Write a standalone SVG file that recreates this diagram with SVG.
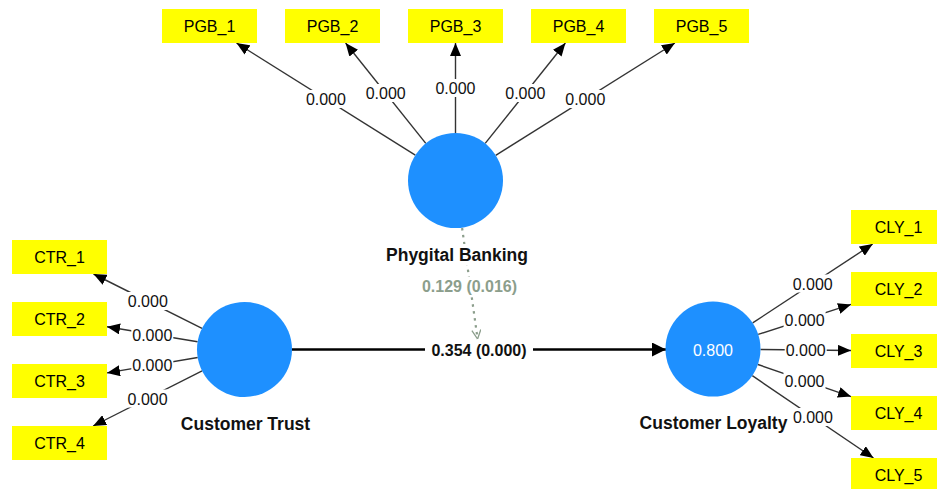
<svg xmlns="http://www.w3.org/2000/svg" width="937" height="489" viewBox="0 0 937 489">
<style>
.box{fill:#ffff00}
.bt{font-family:"Liberation Sans",Arial,sans-serif;font-size:16px;fill:#000;text-anchor:middle}
.lat{fill:#1e90ff}
.nm{font-family:"Liberation Sans",Arial,sans-serif;font-size:17.5px;font-weight:bold;fill:#111;text-anchor:middle}
.edge{stroke:#333;stroke-width:1.4;fill:none;marker-end:url(#ah)}
.lbl{font-family:"Liberation Sans",Arial,sans-serif;font-size:16px;fill:#111;text-anchor:middle}
.bg{fill:#fff}
</style>
<defs>
<marker id="ah" viewBox="0 0 13 11" refX="13" refY="5.5" markerWidth="13" markerHeight="11" markerUnits="userSpaceOnUse" orient="auto"><path d="M0,0 L13,5.5 L0,11 z" fill="#000"/></marker>
<marker id="ahb" viewBox="0 0 14 14" refX="14" refY="7" markerWidth="14" markerHeight="14" markerUnits="userSpaceOnUse" orient="auto"><path d="M0,0 L14,7 L0,14 z" fill="#000"/></marker>
<marker id="aho" viewBox="0 0 10 10" refX="10" refY="5" markerWidth="10" markerHeight="10" markerUnits="userSpaceOnUse" orient="auto"><path d="M1,0.5 L10,5 L1,9.5" fill="none" stroke="#8c9e8c" stroke-width="1.3"/></marker>
</defs>
<rect width="937" height="489" fill="#fff"/>
<g id="connectors">
<line class="edge" x1="415.3" y1="155.2" x2="236.5" y2="43"/>
<line class="edge" x1="425.8" y1="143.4" x2="345.6" y2="43"/>
<line class="edge" x1="455.5" y1="133" x2="455.5" y2="43"/>
<line class="edge" x1="485.2" y1="143.4" x2="565.4" y2="43"/>
<line class="edge" x1="495.7" y1="155.3" x2="674.9" y2="43"/>
<line class="edge" x1="202" y1="328.3" x2="93.5" y2="274"/>
<line class="edge" x1="197.6" y1="341.8" x2="107" y2="326.8"/>
<line class="edge" x1="197.7" y1="357.5" x2="107" y2="372.9"/>
<line class="edge" x1="202.1" y1="370.9" x2="93.1" y2="426"/>
<line class="edge" x1="752.7" y1="322.9" x2="872.7" y2="244"/>
<line class="edge" x1="758.2" y1="334.4" x2="851" y2="304.4"/>
<line class="edge" x1="760.5" y1="349.5" x2="851" y2="350.5"/>
<line class="edge" x1="757.9" y1="364.5" x2="851" y2="396.6"/>
<line class="edge" x1="752.3" y1="375.7" x2="873.5" y2="458"/>
<line x1="292" y1="349.5" x2="666" y2="349.5" stroke="#000" stroke-width="2.6" marker-end="url(#ahb)"/>
<line x1="462.1" y1="228" x2="477.6" y2="339" stroke="#8c9e8c" stroke-width="2.2" stroke-dasharray="2.5,4.5" marker-end="url(#aho)"/>
<g id="edge-labels">
<rect class="bg" x="303.9" y="90" width="44" height="18"/><text class="lbl" x="325.9" y="105">0.000</text>
<rect class="bg" x="363.7" y="84" width="44" height="18"/><text class="lbl" x="385.7" y="99">0.000</text>
<rect class="bg" x="433.5" y="79" width="44" height="18"/><text class="lbl" x="455.5" y="94">0.000</text>
<rect class="bg" x="503.3" y="84" width="44" height="18"/><text class="lbl" x="525.3" y="99">0.000</text>
<rect class="bg" x="563.3" y="90" width="44" height="18"/><text class="lbl" x="585.3" y="105">0.000</text>
<rect class="bg" x="126.8" y="292" width="42" height="18"/><text class="lbl" x="147.8" y="307">0.000</text>
<rect class="bg" x="131.3" y="325.5" width="42" height="18"/><text class="lbl" x="152.3" y="340.5">0.000</text>
<rect class="bg" x="131.3" y="356" width="42" height="18"/><text class="lbl" x="152.3" y="371">0.000</text>
<rect class="bg" x="126.6" y="389.5" width="42" height="18"/><text class="lbl" x="147.6" y="404.5">0.000</text>
<rect class="bg" x="791.7" y="274.5" width="42" height="18"/><text class="lbl" x="812.7" y="289.5">0.000</text>
<rect class="bg" x="783.6" y="310.5" width="42" height="18"/><text class="lbl" x="804.6" y="325.5">0.000</text>
<rect class="bg" x="784.7" y="341" width="42" height="18"/><text class="lbl" x="805.7" y="356">0.000</text>
<rect class="bg" x="783.5" y="371.5" width="42" height="18"/><text class="lbl" x="804.5" y="386.5">0.000</text>
<rect class="bg" x="791.9" y="408" width="42" height="18"/><text class="lbl" x="812.9" y="423">0.000</text>
<rect class="bg" x="425" y="340" width="108" height="20"/><text class="lbl" x="479" y="356" font-weight="bold" fill="#000">0.354 (0.000)</text>
<rect class="bg" x="421" y="277" width="98" height="19"/><text class="lbl" x="469.5" y="292" font-weight="bold" style="fill:#8c9e8c">0.129 (0.016)</text>
</g>
</g>
<g id="PGB"><circle class="lat" cx="455.5" cy="180.5" r="47.5"/><rect class="bg" x="384" y="244" width="146" height="21"/><text class="nm" x="457" y="261">Phygital Banking</text></g>
<g id="CT"><circle class="lat" cx="244.5" cy="349.5" r="47.5"/><text class="nm" x="245.5" y="430">Customer Trust</text></g>
<g id="CL"><circle class="lat" cx="713" cy="349" r="47.5"/><text class="lbl" x="713" y="356" style="fill:#fff">0.800</text><text class="nm" x="713.5" y="429">Customer Loyalty</text></g>
<g id="PGB_1"><rect class="box" x="162" y="9" width="95" height="34"/><text class="bt" x="209.5" y="32">PGB_1</text></g>
<g id="PGB_2"><rect class="box" x="285" y="9" width="95" height="34"/><text class="bt" x="332.5" y="32">PGB_2</text></g>
<g id="PGB_3"><rect class="box" x="408" y="9" width="95" height="34"/><text class="bt" x="455.5" y="32">PGB_3</text></g>
<g id="PGB_4"><rect class="box" x="531" y="9" width="95" height="34"/><text class="bt" x="578.5" y="32">PGB_4</text></g>
<g id="PGB_5"><rect class="box" x="654" y="9" width="95" height="34"/><text class="bt" x="701.5" y="32">PGB_5</text></g>
<g id="CTR_1"><rect class="box" x="12" y="240" width="95" height="34"/><text class="bt" x="59.5" y="263">CTR_1</text></g>
<g id="CTR_2"><rect class="box" x="12" y="302" width="95" height="34"/><text class="bt" x="59.5" y="325">CTR_2</text></g>
<g id="CTR_3"><rect class="box" x="12" y="364" width="95" height="34"/><text class="bt" x="59.5" y="387">CTR_3</text></g>
<g id="CTR_4"><rect class="box" x="12" y="426" width="95" height="34"/><text class="bt" x="59.5" y="449">CTR_4</text></g>
<g id="CLY_1"><rect class="box" x="851" y="210" width="95" height="34"/><text class="bt" x="898.5" y="233">CLY_1</text></g>
<g id="CLY_2"><rect class="box" x="851" y="272" width="95" height="34"/><text class="bt" x="898.5" y="295">CLY_2</text></g>
<g id="CLY_3"><rect class="box" x="851" y="334" width="95" height="34"/><text class="bt" x="898.5" y="357">CLY_3</text></g>
<g id="CLY_4"><rect class="box" x="851" y="396" width="95" height="34"/><text class="bt" x="898.5" y="419">CLY_4</text></g>
<g id="CLY_5"><rect class="box" x="851" y="458" width="95" height="34"/><text class="bt" x="898.5" y="481">CLY_5</text></g>
</svg>
